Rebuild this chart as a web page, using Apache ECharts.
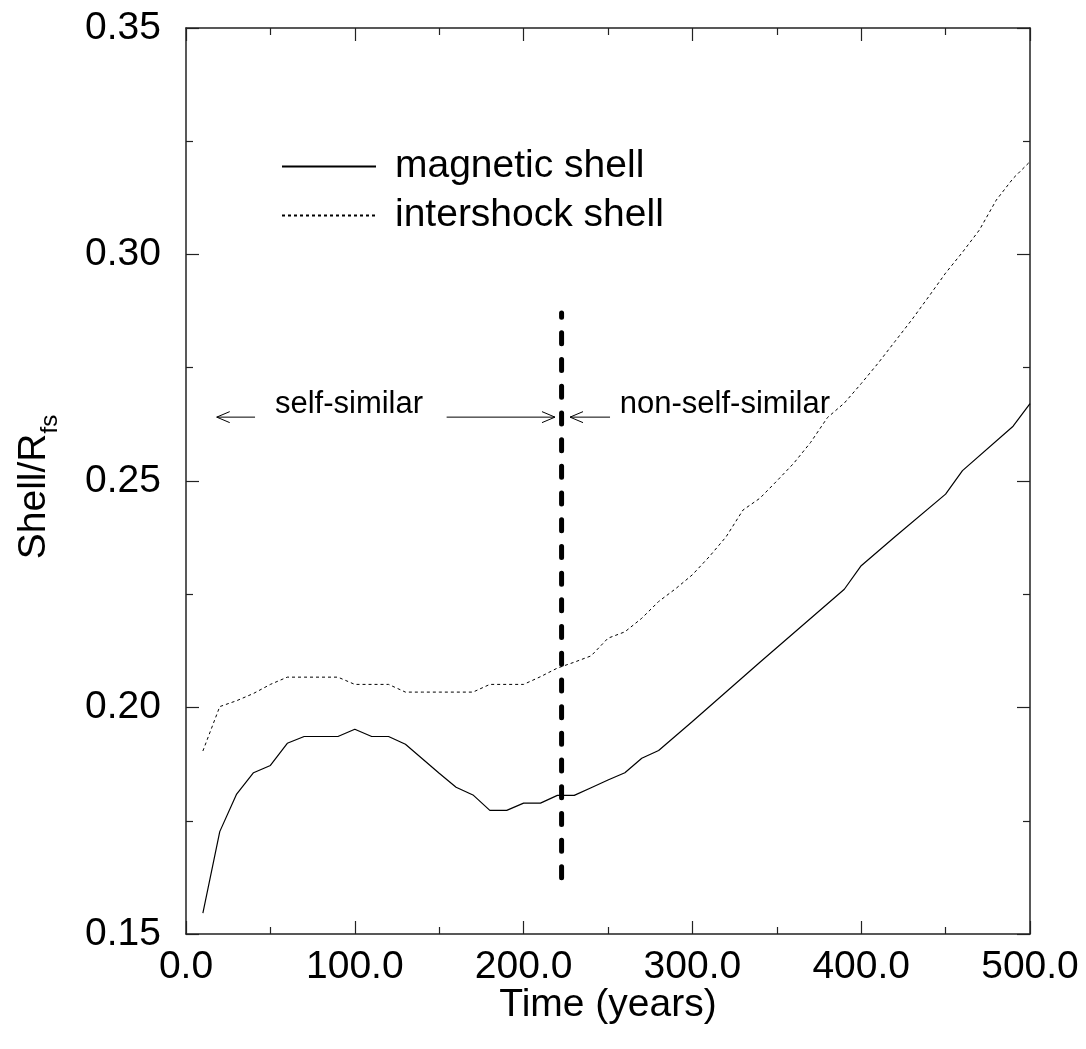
<!DOCTYPE html>
<html>
<head>
<meta charset="utf-8">
<script src="https://cdn.jsdelivr.net/npm/echarts@6/dist/echarts.min.js"></script>
<style>
html,body{margin:0;padding:0;background:#fff;}
#chart{width:1086px;height:1049px;}
</style>
</head>
<body>
<div id="chart"></div>
<script>
// ---- data ----
const magTime = [10,20,30,40,50,60,70,80,90,100,110,120,130,140,150,160,170,180,190,200,210,220,230,240,250,260,270,280,300,340,390,400,420,450,460,490,500];
const magValue = [0.1546,0.1726,0.1809,0.1856,0.1872,0.1921,0.1936,0.1936,0.1936,0.1952,0.1936,0.1936,0.1919,0.1887,0.1855,0.1824,0.1807,0.1773,0.1773,0.1789,0.1789,0.1806,0.1806,0.1823,0.1840,0.1856,0.1888,0.1905,0.1969,0.2100,0.2261,0.2313,0.2377,0.2471,0.2523,0.2621,0.2671];

const interTime = [10,20,30,40,50,60,70,80,90,100,110,120,130,140,150,160,170,180,190,200,210,220,230,240,250,260,270,280,290,300,310,320,330,340,350,360,370,380,390,400,410,420,430,440,450,460,470,480,490,500];
const interValue = [0.1904,0.2002,0.2015,0.2031,0.2051,0.2067,0.2067,0.2067,0.2067,0.2051,0.2051,0.2051,0.2034,0.2034,0.2034,0.2034,0.2034,0.2051,0.2051,0.2051,0.2068,0.2087,0.2100,0.2114,0.2153,0.2167,0.2197,0.2234,0.2262,0.2293,0.2333,0.2377,0.2436,0.2462,0.2500,0.2539,0.2585,0.2640,0.2672,0.2715,0.2760,0.2808,0.2856,0.2907,0.2959,0.3005,0.3054,0.3120,0.3168,0.3205];

const seriesNames = ['magnetic shell', 'intershock shell'];
const dividerTime = 222.5;
const dividerRange = [0.1624, 0.2871];

const annotationY = 0.2641;
// arrows: [tail time, head time]
const arrowTails = [40.9, 154.4, 251.2];
const arrowHeads = [18.2, 218.6, 227.5];
const annotationTexts = ['self-similar', 'non-self-similar'];
const annotationTextTime = [52.7, 257.0];

const xTicks = {min: 0, max: 500, interval: 100};
const yTicks = {min: 0.15, max: 0.35, interval: 0.05};

// ---- chart ----
const FONT = '"Liberation Sans", Arial, Helvetica, sans-serif';
const chart = echarts.init(document.getElementById('chart'), null, {renderer: 'canvas'});

const zip = (a, b) => a.map((v, i) => [v, b[i]]);

const axisCommon = {
  axisLine: {show: true, onZero: false, lineStyle: {color: '#222', width: 1.5}},
  axisTick: {show: true, inside: true, length: 13, lineStyle: {color: '#222', width: 1.2}},
  minorTick: {show: true, splitNumber: 2, length: 7, lineStyle: {color: '#222', width: 1.2}},
  splitLine: {show: false},
  minorSplitLine: {show: false}
};

const arrowData = arrowTails.map((t, i) => [t, arrowHeads[i], annotationY]);
const textData = annotationTexts.map((s, i) => [annotationTextTime[i], annotationY, s]);

const option = {
  animation: false,
  backgroundColor: '#fff',
  textStyle: {fontFamily: FONT},
  grid: {left: 186, right: 56, top: 28, bottom: 115, containLabel: false},
  legend: {
    show: true,
    data: seriesNames,
    orient: 'vertical',
    left: 276,
    top: 142,
    itemWidth: 94,
    itemHeight: 14,
    itemGap: 10,
    selectedMode: false,
    itemStyle: {opacity: 0},
    textStyle: {fontSize: 39, fontFamily: FONT, color: '#000', lineHeight: 39, padding: [0, 0, 0, 14]}
  },
  xAxis: [
    Object.assign({}, axisCommon, {
      type: 'value', position: 'bottom',
      min: xTicks.min, max: xTicks.max, interval: xTicks.interval,
      name: 'Time (years)', nameLocation: 'middle', nameGap: 52, nameMoveOverlap: false,
      nameTextStyle: {fontSize: 39, fontFamily: FONT, color: '#000'},
      axisLabel: {show: true, margin: 14, fontSize: 39, fontFamily: FONT, color: '#000',
        formatter: v => v.toFixed(1)}
    }),
    Object.assign({}, axisCommon, {
      type: 'value', position: 'top',
      min: xTicks.min, max: xTicks.max, interval: xTicks.interval,
      axisLabel: {show: false}
    })
  ],
  yAxis: [
    Object.assign({}, axisCommon, {
      type: 'value', position: 'left',
      min: yTicks.min, max: yTicks.max, interval: yTicks.interval,
      name: '{a|Shell/R}{b|fs}', nameLocation: 'middle', nameGap: 124, nameRotate: 90,
      nameTextStyle: {
        color: '#000', fontFamily: FONT, padding: [0, 12, 0, 0],
        rich: {
          a: {fontSize: 39, fontFamily: FONT, color: '#000', lineHeight: 48},
          b: {fontSize: 24, fontFamily: FONT, color: '#000', verticalAlign: 'top', padding: [32, 0, 0, 0]}
        }
      },
      axisLabel: {show: true, margin: 25, fontSize: 39, fontFamily: FONT, color: '#000',
        formatter: v => v.toFixed(2)}
    }),
    Object.assign({}, axisCommon, {
      type: 'value', position: 'right',
      min: yTicks.min, max: yTicks.max, interval: yTicks.interval,
      axisLabel: {show: false}
    })
  ],
  series: [
    {
      name: seriesNames[0], type: 'line', xAxisIndex: 0, yAxisIndex: 0,
      data: zip(magTime, magValue), showSymbol: false, symbol: 'none',
      lineStyle: {color: '#000', width: 1.2, type: 'solid'},
      itemStyle: {color: '#000'}
    },
    {
      name: seriesNames[1], type: 'line', xAxisIndex: 0, yAxisIndex: 0,
      data: zip(interTime, interValue), showSymbol: false, symbol: 'none',
      lineStyle: {color: '#000', width: 1, type: [3, 3]},
      itemStyle: {color: '#000'}
    },
    {
      name: 'divider', type: 'line', xAxisIndex: 0, yAxisIndex: 0,
      data: [[dividerTime, dividerRange[0]], [dividerTime, dividerRange[1]]],
      showSymbol: false, symbol: 'none', silent: true, z: 5,
      lineStyle: {color: '#000', width: 5, type: [11, 15.7], cap: 'round'}
    },
    {
      name: 'arrows', type: 'custom', xAxisIndex: 0, yAxisIndex: 0, silent: true, z: 6,
      data: arrowData,
      renderItem: function (params, api) {
        const p1 = api.coord([api.value(0), api.value(2)]);
        const p2 = api.coord([api.value(1), api.value(2)]);
        const dir = Math.sign(p2[0] - p1[0]);
        const hl = 13, hw = 5.5;
        return {
          type: 'group',
          children: [
            {type: 'line', shape: {x1: p1[0], y1: p1[1], x2: p2[0], y2: p2[1]},
              style: {stroke: '#000', lineWidth: 1}},
            {type: 'polyline', shape: {points: [[p2[0] - dir * hl, p2[1] - hw], [p2[0], p2[1]], [p2[0] - dir * hl, p2[1] + hw]]},
              style: {stroke: '#000', fill: null, lineWidth: 1}}
          ]
        };
      }
    },
    {
      name: 'annotations', type: 'custom', xAxisIndex: 0, yAxisIndex: 0, silent: true, z: 6,
      data: textData,
      dimensions: ['x', 'y', {name: 'label', type: 'ordinal'}],
      renderItem: function (params, api) {
        const p = api.coord([api.value(0), api.value(1)]);
        return {
          type: 'text',
          x: p[0], y: p[1] - 13,
          style: {text: textData[params.dataIndex][2], font: '31px ' + FONT, fill: '#000',
            textAlign: 'left', textVerticalAlign: 'middle', verticalAlign: 'middle'}
        };
      }
    }
  ]
};
chart.setOption(option);
</script>
</body>
</html>
